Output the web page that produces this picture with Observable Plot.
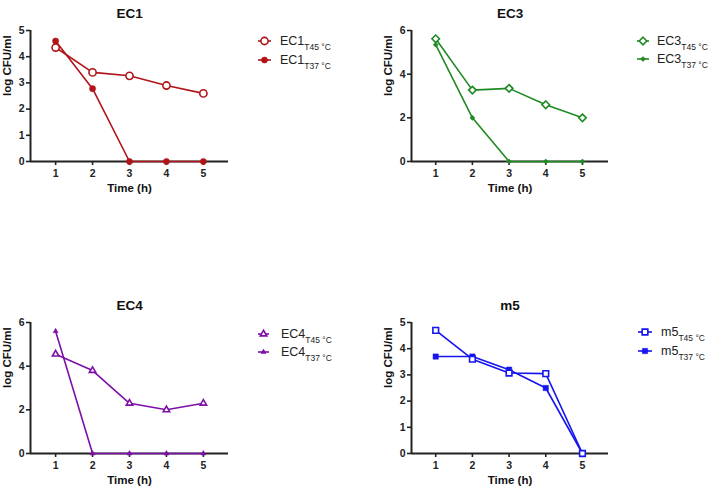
<!DOCTYPE html>
<html><head><meta charset="utf-8">
<script src="https://cdn.jsdelivr.net/npm/d3@7"></script>
<script src="https://cdn.jsdelivr.net/npm/@observablehq/plot@0.6"></script>
<style>
body{margin:0;background:#fff;font-family:"Liberation Sans",Arial,sans-serif;}
#root{position:relative;width:708px;height:492px;overflow:hidden;background:#fff;}
.panel{position:absolute;}
.lrow{position:absolute;white-space:nowrap;display:flex;align-items:center;height:16px;font-size:12.5px;color:#222;}
.lrow sub{font-size:8.5px;position:relative;top:1px;vertical-align:sub;line-height:0;}
</style></head><body><div id="root"></div>
<script>
// Data
const times = [1, 2, 3, 4, 5];
const panelTitles = ["EC1", "EC3", "EC4", "m5"];
const seriesLabels = ["T45 °C", "T37 °C"];
const ec1T45 = [4.35, 3.4, 3.27, 2.9, 2.6];
const ec1T37 = [4.6, 2.78, 0, 0, 0];
const ec3T45 = [5.62, 3.27, 3.35, 2.6, 2.0];
const ec3T37 = [5.35, 2.0, 0, 0, 0];
const ec4T45 = [4.55, 3.8, 2.3, 2.0, 2.3];
const ec4T37 = [5.6, 0, 0, 0, 0];
const m5T45 = [4.7, 3.6, 3.07, 3.05, 0];
const m5T37 = [3.7, 3.7, 3.2, 2.5, 0];
const yTicksEC1 = [0, 1, 2, 3, 4, 5];
const yTicksEC3 = [0, 2, 4, 6];
const yTicksEC4 = [0, 2, 4, 6];
const yTicksM5 = [0, 1, 2, 3, 4, 5];

const FONT = "Liberation Sans, Arial, Helvetica, sans-serif";
const AX = "#222";

const panels = [
  {title: panelTitles[0], color: "#b01419", left: 0, top: 0, ml: 30, mr: 126, mt: 30, mb: 85, xd: [0.32, 5.68], ymax: 5, yticks: yTicksEC1,
   series: [{v: ec1T45, sym: "circle", hollow: true, r: 3.6}, {v: ec1T37, sym: "circle", hollow: false, r: 3.1}],
   legend: {x0: 258, x1: 271, tx: 280, y: [41, 60]}},
  {title: panelTitles[1], color: "#1f8a22", left: 354, top: 0, ml: 57, mr: 100, mt: 30, mb: 85, xd: [0.34, 5.71], ymax: 6, yticks: yTicksEC3,
   series: [{v: ec3T45, sym: "diamond2", hollow: true, r: 3.4}, {v: ec3T37, sym: "diamond2", hollow: false, r: 2.3}],
   legend: {x0: 637, x1: 649, tx: 657, y: [41, 59]}},
  {title: panelTitles[2], color: "#7c10a8", left: 0, top: 246, ml: 30, mr: 126, mt: 76, mb: 39, xd: [0.32, 5.68], ymax: 6, yticks: yTicksEC4,
   series: [{v: ec4T45, sym: "triangle", hollow: true, r: 2.4}, {v: ec4T37, sym: "triangle", hollow: false, r: 1.9}],
   legend: {x0: 258, x1: 269, tx: 281, y: [334, 352]}},
  {title: panelTitles[3], color: "#1515ee", left: 354, top: 246, ml: 57, mr: 100, mt: 76, mb: 39, xd: [0.34, 5.71], ymax: 5, yticks: yTicksM5,
   series: [{v: m5T45, sym: "square", hollow: true, r: 3.2}, {v: m5T37, sym: "square", hollow: false, r: 3.0}],
   legend: {x0: 638, x1: 652, tx: 661, y: [332, 351]}}
];

const root = document.getElementById("root");

panels.forEach(p => {
  const marks = [
    Plot.axisX({ticks: times, tickSize: 4, tickPadding: 4, label: null, tickFormat: d => String(d), strokeWidth: 1.6, fontWeight: "bold", fontSize: 10.5}),
    Plot.axisY({ticks: p.yticks, tickSize: 4, tickPadding: 2, label: null, tickFormat: d => String(d), strokeWidth: 1.6, fontWeight: "bold", fontSize: 10.5}),
    Plot.ruleY([0], {stroke: AX, strokeWidth: 2}),
    Plot.ruleX([p.xd[0]], {stroke: AX, strokeWidth: 2})
  ];
  p.series.slice().reverse().forEach(s => {
    const d = times.map((t, i) => ({t, v: s.v[i]}));
    marks.push(Plot.line(d, {x: "t", y: "v", stroke: p.color, strokeWidth: 1.6}));
    marks.push(Plot.dot(d, {x: "t", y: "v", symbol: () => s.sym, r: s.r,
      fill: s.hollow ? "white" : p.color, stroke: p.color, strokeWidth: s.hollow ? 1.6 : 0.5}));
  });
  marks.push(Plot.text([p.title], {frameAnchor: "top", dy: -22, fontSize: 13.5, fontWeight: "bold", fill: "#111"}));
  marks.push(Plot.text(["Time (h)"], {frameAnchor: "bottom", dy: 30, fontSize: 11.5, fontWeight: "bold", fill: "#111"}));
  marks.push(Plot.text(["log CFU/ml"], {frameAnchor: "left", dx: -23, rotate: -90, fontSize: 11.5, fontWeight: "bold", fill: "#111"}));

  const chart = Plot.plot({
    width: 354, height: 246,
    marginLeft: p.ml, marginRight: p.mr, marginTop: p.mt, marginBottom: p.mb,
    style: {fontFamily: FONT, fontSize: "10px", color: AX, background: "transparent", overflow: "visible"},
    x: {domain: p.xd, axis: null},
    y: {domain: [0, p.ymax], axis: null},
    symbol: {type: "identity"},
    marks
  });
  const wrap = document.createElement("div");
  wrap.className = "panel";
  wrap.style.left = p.left + "px";
  wrap.style.top = p.top + "px";
  wrap.appendChild(chart);
  root.appendChild(wrap);

  // Legend (HTML rows)
  p.series.forEach((s, i) => {
    const row = document.createElement("div");
    row.className = "lrow";
    row.style.left = p.legend.x0 + "px";
    row.style.top = (p.legend.y[i] - 8) + "px";
    const w = p.legend.tx - p.legend.x0;
    const lw = p.legend.x1 - p.legend.x0;
    const svg = d3.create("svg").attr("width", w).attr("height", 16).style("overflow", "visible");
    svg.append("line").attr("x1", 0).attr("x2", lw).attr("y1", 8).attr("y2", 8).attr("stroke", p.color).attr("stroke-width", 1.6);
    const symMap = {circle: d3.symbolCircle, diamond2: d3.symbolDiamond2, triangle: d3.symbolTriangle, square: d3.symbolSquare};
    svg.append("path").attr("transform", `translate(${lw / 2},8)`)
      .attr("d", d3.symbol(symMap[s.sym], s.r * s.r * Math.PI)())
      .attr("fill", s.hollow ? "white" : p.color).attr("stroke", p.color).attr("stroke-width", s.hollow ? 1.6 : 0.5);
    row.appendChild(svg.node());
    const span = document.createElement("span");
    span.innerHTML = p.title + "<sub>" + seriesLabels[i] + "</sub>";
    row.appendChild(span);
    root.appendChild(row);
  });
});
</script>
</body></html>
